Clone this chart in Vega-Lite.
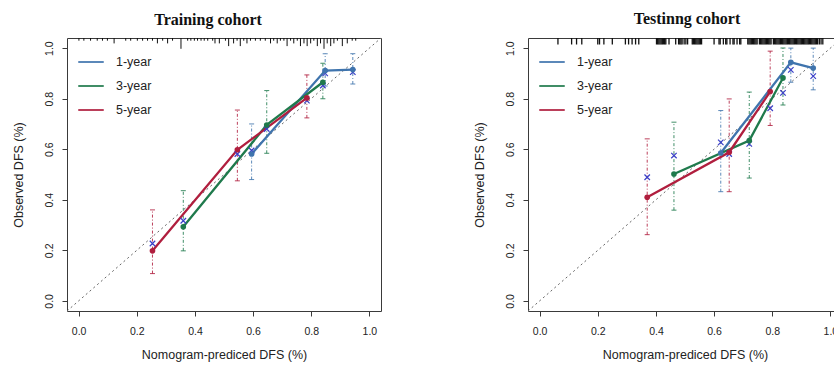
{
  "$schema": "https://vega.github.io/schema/vega-lite/v6.json",
  "padding": {"left": 11, "top": 10, "right": 0, "bottom": 0},
  "config": {
    "view": {"stroke": "#3a3a3a", "strokeWidth": 1},
    "axis": {"domain": false, "grid": false, "tickColor": "#3a3a3a", "tickSize": 5, "labelFont": "Liberation Sans", "labelFontSize": 10.5, "labelColor": "#222", "titleFont": "Liberation Sans", "titleFontSize": 12.5, "titleFontWeight": "normal", "titleColor": "#222", "labelFlush": false, "labelOverlap": false},
    "axisX": {"labelPadding": 10, "titlePadding": 12},
    "axisY": {"labelAngle": -90, "labelAlign": "center", "labelBaseline": "bottom", "labelPadding": 8, "titlePadding": 19},
    "title": {"font": "Liberation Serif", "fontSize": 16, "fontWeight": "bold", "color": "#111", "offset": 10, "anchor": "middle"},
    "legend": {"labelFont": "Liberation Sans", "labelFontSize": 12.5, "labelColor": "#222"}
  },
  "datasets": {
    "train": [
      {"series": "1-year", "pred": 0.595, "obs": 0.581, "corr": 0.595, "lo": 0.48, "hi": 0.70},
      {"series": "1-year", "pred": 0.848, "obs": 0.911, "corr": 0.90, "lo": 0.85, "hi": 0.978},
      {"series": "1-year", "pred": 0.943, "obs": 0.915, "corr": 0.905, "lo": 0.858, "hi": 0.978},
      {"series": "3-year", "pred": 0.36, "obs": 0.293, "corr": 0.317, "lo": 0.198, "hi": 0.436},
      {"series": "3-year", "pred": 0.647, "obs": 0.696, "corr": 0.68, "lo": 0.584, "hi": 0.832},
      {"series": "3-year", "pred": 0.84, "obs": 0.865, "corr": 0.852, "lo": 0.80, "hi": 0.94},
      {"series": "5-year", "pred": 0.254, "obs": 0.198, "corr": 0.227, "lo": 0.108, "hi": 0.36},
      {"series": "5-year", "pred": 0.546, "obs": 0.598, "corr": 0.581, "lo": 0.475, "hi": 0.755},
      {"series": "5-year", "pred": 0.785, "obs": 0.803, "corr": 0.792, "lo": 0.724, "hi": 0.894}
    ],
    "test": [
      {"series": "1-year", "pred": 0.623, "obs": 0.585, "corr": 0.627, "lo": 0.432, "hi": 0.753},
      {"series": "1-year", "pred": 0.864, "obs": 0.944, "corr": 0.914, "lo": 0.865, "hi": 1.0},
      {"series": "1-year", "pred": 0.941, "obs": 0.921, "corr": 0.889, "lo": 0.835, "hi": 1.0},
      {"series": "3-year", "pred": 0.462, "obs": 0.502, "corr": 0.575, "lo": 0.359, "hi": 0.707},
      {"series": "3-year", "pred": 0.721, "obs": 0.634, "corr": 0.621, "lo": 0.486, "hi": 0.826},
      {"series": "3-year", "pred": 0.837, "obs": 0.882, "corr": 0.823, "lo": 0.775, "hi": 1.0},
      {"series": "5-year", "pred": 0.37, "obs": 0.41, "corr": 0.489, "lo": 0.262, "hi": 0.641},
      {"series": "5-year", "pred": 0.652, "obs": 0.588, "corr": 0.581, "lo": 0.432, "hi": 0.799},
      {"series": "5-year", "pred": 0.793, "obs": 0.828, "corr": 0.762, "lo": 0.694, "hi": 0.988}
    ],
    "rugTrain": [
      {"x": 0.001, "n": 1}, {"x": 0.018, "n": 1}, {"x": 0.041, "n": 1}, {"x": 0.064, "n": 1}, {"x": 0.082, "n": 1}, {"x": 0.099, "n": 1}, {"x": 0.122, "n": 2}, {"x": 0.162, "n": 1}, {"x": 0.179, "n": 1}, {"x": 0.202, "n": 1}, {"x": 0.22, "n": 1}, {"x": 0.237, "n": 1}, {"x": 0.254, "n": 1}, {"x": 0.271, "n": 2}, {"x": 0.289, "n": 1}, {"x": 0.306, "n": 2}, {"x": 0.323, "n": 1}, {"x": 0.352, "n": 4}, {"x": 0.375, "n": 1}, {"x": 0.386, "n": 1}, {"x": 0.398, "n": 1}, {"x": 0.409, "n": 1}, {"x": 0.421, "n": 1}, {"x": 0.432, "n": 1}, {"x": 0.444, "n": 1}, {"x": 0.461, "n": 1}, {"x": 0.469, "n": 2}, {"x": 0.484, "n": 2}, {"x": 0.505, "n": 1}, {"x": 0.516, "n": 3}, {"x": 0.533, "n": 2}, {"x": 0.545, "n": 1}, {"x": 0.556, "n": 3}, {"x": 0.568, "n": 1}, {"x": 0.579, "n": 2}, {"x": 0.591, "n": 1}, {"x": 0.608, "n": 1}, {"x": 0.625, "n": 1}, {"x": 0.642, "n": 1}, {"x": 0.66, "n": 2}, {"x": 0.671, "n": 1}, {"x": 0.683, "n": 2}, {"x": 0.694, "n": 1}, {"x": 0.706, "n": 1}, {"x": 0.717, "n": 3}, {"x": 0.729, "n": 1}, {"x": 0.74, "n": 2}, {"x": 0.752, "n": 1}, {"x": 0.763, "n": 3}, {"x": 0.775, "n": 2}, {"x": 0.786, "n": 3}, {"x": 0.798, "n": 2}, {"x": 0.809, "n": 1}, {"x": 0.821, "n": 3}, {"x": 0.832, "n": 2}, {"x": 0.844, "n": 4}, {"x": 0.855, "n": 2}, {"x": 0.867, "n": 3}, {"x": 0.878, "n": 2}, {"x": 0.89, "n": 1}, {"x": 0.907, "n": 3}, {"x": 0.924, "n": 2}, {"x": 0.941, "n": 1}, {"x": 0.953, "n": 1}
    ],
    "rugTest": [
      {"x": 0.063, "n": 1}, {"x": 0.110, "n": 1}, {"x": 0.127, "n": 1}, {"x": 0.145, "n": 1}, {"x": 0.200, "n": 1}, {"x": 0.206, "n": 1}, {"x": 0.221, "n": 1}, {"x": 0.250, "n": 1}, {"x": 0.295, "n": 1}, {"x": 0.306, "n": 1}, {"x": 0.318, "n": 1}, {"x": 0.330, "n": 1}, {"x": 0.341, "n": 1},
      {"x": 0.402, "n": 1}, {"x": 0.406, "n": 1}, {"x": 0.410, "n": 1}, {"x": 0.414, "n": 1}, {"x": 0.418, "n": 1}, {"x": 0.422, "n": 1}, {"x": 0.426, "n": 1}, {"x": 0.430, "n": 1}, {"x": 0.434, "n": 1}, {"x": 0.445, "n": 1}, {"x": 0.468, "n": 1},
      {"x": 0.478, "n": 1}, {"x": 0.482, "n": 1}, {"x": 0.486, "n": 1}, {"x": 0.490, "n": 1}, {"x": 0.497, "n": 1}, {"x": 0.503, "n": 1}, {"x": 0.509, "n": 1},
      {"x": 0.525, "n": 1}, {"x": 0.529, "n": 1}, {"x": 0.533, "n": 1}, {"x": 0.537, "n": 1}, {"x": 0.541, "n": 1}, {"x": 0.545, "n": 1}, {"x": 0.549, "n": 1}, {"x": 0.553, "n": 1}, {"x": 0.557, "n": 1},
      {"x": 0.600, "n": 1}, {"x": 0.617, "n": 1}, {"x": 0.621, "n": 1}, {"x": 0.632, "n": 1}, {"x": 0.640, "n": 1}, {"x": 0.644, "n": 1}, {"x": 0.655, "n": 1}, {"x": 0.665, "n": 1}, {"x": 0.669, "n": 1}, {"x": 0.679, "n": 1}, {"x": 0.688, "n": 1}, {"x": 0.692, "n": 1},
      {"x": 0.716, "n": 1}, {"x": 0.720, "n": 1}, {"x": 0.724, "n": 1}, {"x": 0.728, "n": 1}, {"x": 0.732, "n": 1}, {"x": 0.736, "n": 1}, {"x": 0.740, "n": 1}, {"x": 0.744, "n": 1}, {"x": 0.748, "n": 1},
      {"x": 0.756, "n": 1}, {"x": 0.760, "n": 1}, {"x": 0.764, "n": 1}, {"x": 0.768, "n": 1}, {"x": 0.772, "n": 1}, {"x": 0.776, "n": 1}, {"x": 0.780, "n": 1}, {"x": 0.784, "n": 1}, {"x": 0.788, "n": 1}, {"x": 0.792, "n": 1}, {"x": 0.796, "n": 1},
      {"x": 0.804, "n": 1}, {"x": 0.808, "n": 1}, {"x": 0.812, "n": 1}, {"x": 0.816, "n": 1}, {"x": 0.820, "n": 1}, {"x": 0.824, "n": 1}, {"x": 0.828, "n": 1}, {"x": 0.832, "n": 1}, {"x": 0.836, "n": 1}, {"x": 0.840, "n": 1}, {"x": 0.844, "n": 1}, {"x": 0.848, "n": 1}, {"x": 0.852, "n": 1}, {"x": 0.856, "n": 1}, {"x": 0.860, "n": 1}, {"x": 0.864, "n": 1}, {"x": 0.868, "n": 1}, {"x": 0.872, "n": 1}, {"x": 0.876, "n": 1}, {"x": 0.880, "n": 1}, {"x": 0.884, "n": 1}, {"x": 0.888, "n": 1}, {"x": 0.892, "n": 1}, {"x": 0.896, "n": 1}, {"x": 0.900, "n": 1}, {"x": 0.904, "n": 1}, {"x": 0.908, "n": 1}, {"x": 0.912, "n": 1}, {"x": 0.916, "n": 1}, {"x": 0.920, "n": 1}, {"x": 0.924, "n": 1}, {"x": 0.928, "n": 1}, {"x": 0.932, "n": 1}, {"x": 0.936, "n": 1}, {"x": 0.940, "n": 1}, {"x": 0.944, "n": 1}, {"x": 0.948, "n": 1}, {"x": 0.952, "n": 1}, {"x": 0.956, "n": 1}, {"x": 0.962, "n": 1}, {"x": 0.968, "n": 1}, {"x": 0.974, "n": 1}
    ]
  },
  "spacing": 90,
  "resolve": {"scale": {"color": "independent"}, "legend": {"color": "independent"}},
  "hconcat": [
    {
      "title": {"text": "Training cohort", "dx": -16},
      "width": 314,
      "height": 273,
      "resolve": {"scale": {"y": "independent"}},
      "layer": [
        {
          "data": {"name": "train"},
          "layer": [
            {
              "data": {"values": [{}]},
              "mark": {"type": "rule", "strokeDash": [2, 3], "color": "#666", "strokeWidth": 1},
              "encoding": {
                "x": {"datum": -0.04, "type": "quantitative", "scale": {"domain": [-0.04, 1.04], "nice": false, "zero": false}, "axis": {"values": [0, 0.2, 0.4, 0.6, 0.8, 1], "format": ".1f", "title": "Nomogram-prediced DFS (%)"}},
                "y": {"datum": -0.04, "type": "quantitative", "scale": {"domain": [-0.04, 1.04], "nice": false, "zero": false}, "axis": {"values": [0, 0.2, 0.4, 0.6, 0.8, 1], "format": ".1f", "title": "Observed DFS (%)"}},
                "x2": {"datum": 1.04},
                "y2": {"datum": 1.04}
              }
            },
            {
              "mark": {"type": "rule", "strokeDash": [3, 2, 1, 2], "strokeWidth": 1, "opacity": 0.85},
              "encoding": {
                "x": {"field": "pred", "type": "quantitative"},
                "y": {"field": "lo", "type": "quantitative"},
                "y2": {"field": "hi"},
                "color": {"field": "series", "type": "nominal"}
              }
            },
            {
              "mark": {"type": "tick", "orient": "horizontal", "size": 5, "thickness": 1, "opacity": 0.85},
              "encoding": {
                "x": {"field": "pred", "type": "quantitative"},
                "y": {"field": "lo", "type": "quantitative"},
                "color": {"field": "series", "type": "nominal"}
              }
            },
            {
              "mark": {"type": "tick", "orient": "horizontal", "size": 5, "thickness": 1, "opacity": 0.85},
              "encoding": {
                "x": {"field": "pred", "type": "quantitative"},
                "y": {"field": "hi", "type": "quantitative"},
                "color": {"field": "series", "type": "nominal"}
              }
            },
            {
              "mark": {"type": "line", "strokeWidth": 2.3},
              "encoding": {
                "x": {"field": "pred", "type": "quantitative"},
                "y": {"field": "obs", "type": "quantitative"},
                "color": {"field": "series", "type": "nominal", "scale": {"domain": ["1-year", "3-year", "5-year"], "range": ["#3f74ad", "#1f7a4c", "#b01e3e"]}, "legend": {"orient": "none", "legendX": 10, "legendY": 10, "title": null, "symbolType": "stroke", "symbolSize": 650, "symbolStrokeWidth": 2, "symbolOpacity": 1, "labelOffset": 11, "rowPadding": 3}}
              }
            },
            {
              "mark": {"type": "point", "shape": "M-1,-1L1,1M-1,1L1,-1", "size": 30, "filled": false, "color": "#3a3fc8", "strokeWidth": 1.2, "opacity": 1},
              "encoding": {
                "x": {"field": "pred", "type": "quantitative"},
                "y": {"field": "corr", "type": "quantitative"}
              }
            },
            {
              "mark": {"type": "point", "shape": "circle", "filled": true, "size": 32, "opacity": 1},
              "encoding": {
                "x": {"field": "pred", "type": "quantitative"},
                "y": {"field": "obs", "type": "quantitative"},
                "color": {"field": "series", "type": "nominal"}
              }
            }
          ]
        },
        {
          "data": {"name": "rugTrain"},
          "mark": {"type": "rule", "color": "#111", "strokeWidth": 1},
          "encoding": {
            "x": {"field": "x", "type": "quantitative"},
            "y": {"field": "n", "type": "quantitative", "scale": {"domain": [0, 101], "reverse": true, "nice": false, "zero": false}, "axis": null},
            "y2": {"datum": 0}
          }
        }
      ]
    },
    {
      "title": {"text": "Testinng cohort", "dx": 2},
      "width": 314,
      "height": 273,
      "resolve": {"scale": {"y": "independent"}},
      "layer": [
        {
          "data": {"name": "test"},
          "layer": [
            {
              "data": {"values": [{}]},
              "mark": {"type": "rule", "strokeDash": [2, 3], "color": "#666", "strokeWidth": 1},
              "encoding": {
                "x": {"datum": -0.04, "type": "quantitative", "scale": {"domain": [-0.04, 1.04], "nice": false, "zero": false}, "axis": {"values": [0, 0.2, 0.4, 0.6, 0.8, 1], "format": ".1f", "title": "Nomogram-prediced DFS (%)"}},
                "y": {"datum": -0.04, "type": "quantitative", "scale": {"domain": [-0.04, 1.04], "nice": false, "zero": false}, "axis": {"values": [0, 0.2, 0.4, 0.6, 0.8, 1], "format": ".1f", "title": "Observed DFS (%)"}},
                "x2": {"datum": 1.04},
                "y2": {"datum": 1.04}
              }
            },
            {
              "mark": {"type": "rule", "strokeDash": [3, 2, 1, 2], "strokeWidth": 1, "opacity": 0.85},
              "encoding": {
                "x": {"field": "pred", "type": "quantitative"},
                "y": {"field": "lo", "type": "quantitative"},
                "y2": {"field": "hi"},
                "color": {"field": "series", "type": "nominal"}
              }
            },
            {
              "mark": {"type": "tick", "orient": "horizontal", "size": 5, "thickness": 1, "opacity": 0.85},
              "encoding": {
                "x": {"field": "pred", "type": "quantitative"},
                "y": {"field": "lo", "type": "quantitative"},
                "color": {"field": "series", "type": "nominal"}
              }
            },
            {
              "mark": {"type": "tick", "orient": "horizontal", "size": 5, "thickness": 1, "opacity": 0.85},
              "encoding": {
                "x": {"field": "pred", "type": "quantitative"},
                "y": {"field": "hi", "type": "quantitative"},
                "color": {"field": "series", "type": "nominal"}
              }
            },
            {
              "mark": {"type": "line", "strokeWidth": 2.3},
              "encoding": {
                "x": {"field": "pred", "type": "quantitative"},
                "y": {"field": "obs", "type": "quantitative"},
                "color": {"field": "series", "type": "nominal", "scale": {"domain": ["1-year", "3-year", "5-year"], "range": ["#3f74ad", "#1f7a4c", "#b01e3e"]}, "legend": {"orient": "none", "legendX": 10, "legendY": 10, "title": null, "symbolType": "stroke", "symbolSize": 650, "symbolStrokeWidth": 2, "symbolOpacity": 1, "labelOffset": 11, "rowPadding": 3}}
              }
            },
            {
              "mark": {"type": "point", "shape": "M-1,-1L1,1M-1,1L1,-1", "size": 30, "filled": false, "color": "#3a3fc8", "strokeWidth": 1.2, "opacity": 1},
              "encoding": {
                "x": {"field": "pred", "type": "quantitative"},
                "y": {"field": "corr", "type": "quantitative"}
              }
            },
            {
              "mark": {"type": "point", "shape": "circle", "filled": true, "size": 32, "opacity": 1},
              "encoding": {
                "x": {"field": "pred", "type": "quantitative"},
                "y": {"field": "obs", "type": "quantitative"},
                "color": {"field": "series", "type": "nominal"}
              }
            }
          ]
        },
        {
          "data": {"name": "rugTest"},
          "mark": {"type": "rule", "color": "#111", "strokeWidth": 1.3},
          "encoding": {
            "x": {"field": "x", "type": "quantitative"},
            "y": {"field": "n", "type": "quantitative", "scale": {"domain": [0, 42], "reverse": true, "nice": false, "zero": false}, "axis": null},
            "y2": {"datum": 0}
          }
        }
      ]
    }
  ]
}
